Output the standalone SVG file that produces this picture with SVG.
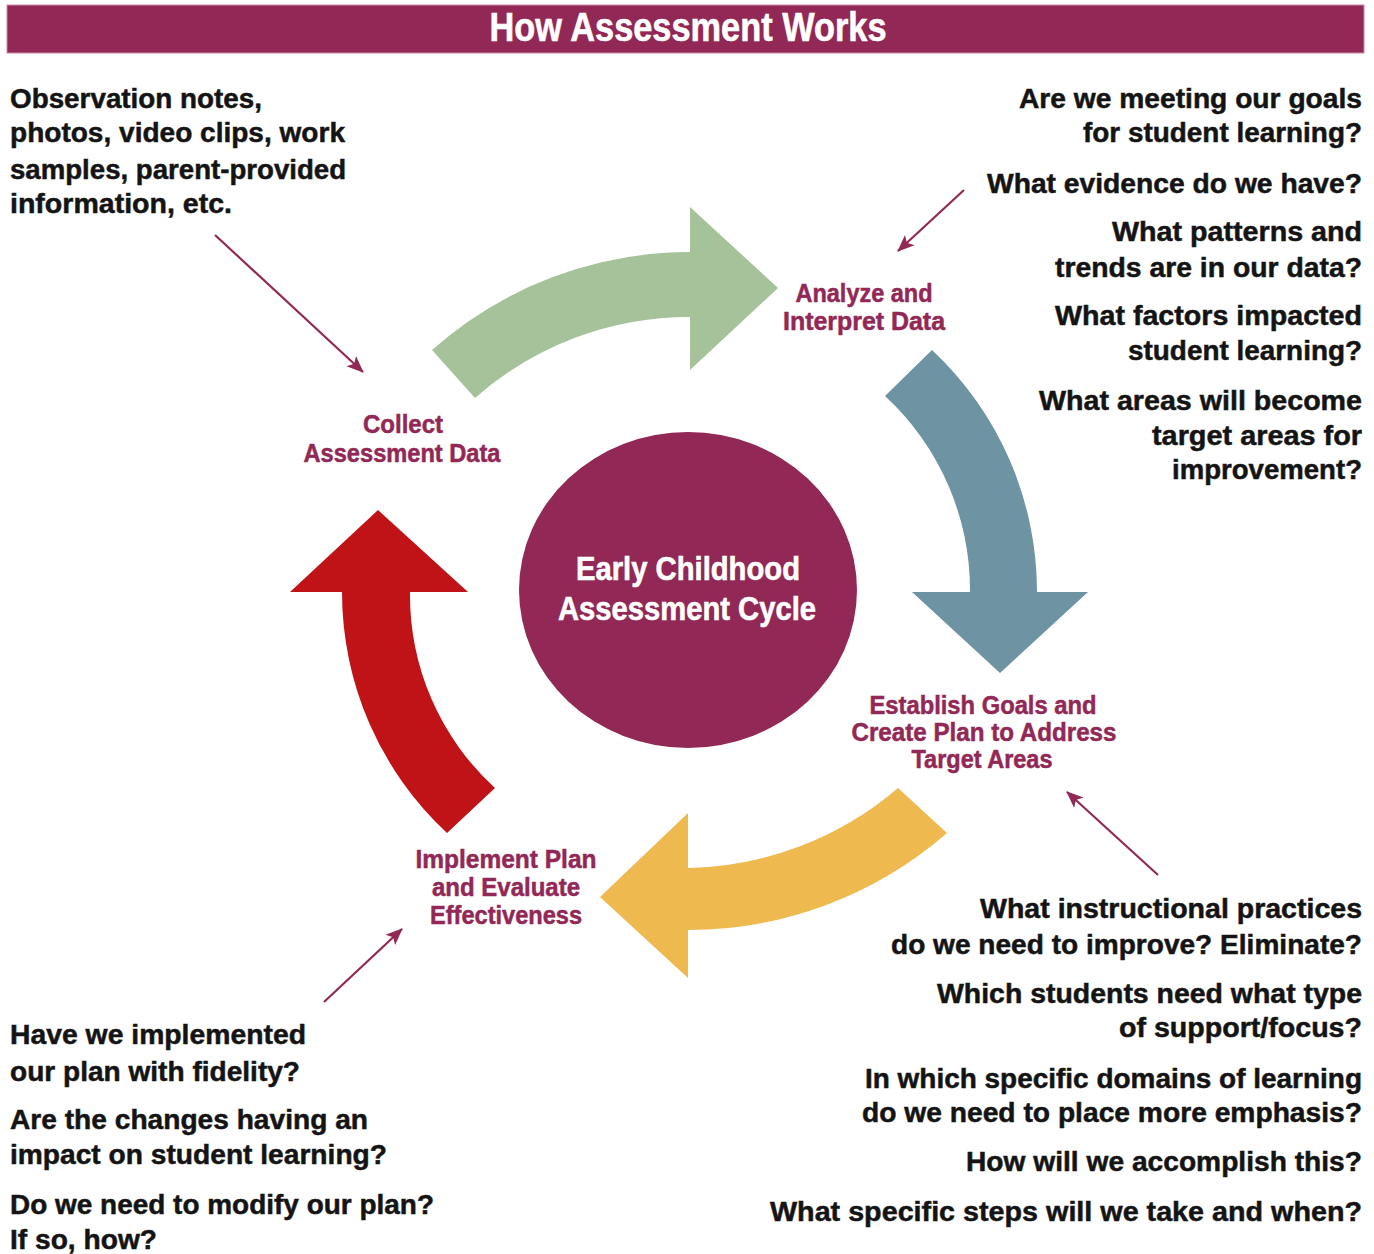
<svg xmlns="http://www.w3.org/2000/svg" width="1374" height="1254" viewBox="0 0 1374 1254">
  <style>
    text { font-family: "Liberation Sans", Arial, sans-serif; font-weight: bold; }
    .body { font-size: 28px; fill: #141414; stroke: #141414; stroke-width: 0.5; }
    .r { text-anchor: end; }
    .lbl { font-size: 25px; fill: #922855; stroke: #922855; stroke-width: 0.5; text-anchor: middle; }
    .ctr { font-size: 34px; fill: #ffffff; stroke: #ffffff; stroke-width: 0.6; text-anchor: middle; }
    .ptr { stroke: #922855; stroke-width: 2.2; fill: none; marker-end: url(#ah); }
  </style>
  <defs>
    <marker id="ah" markerUnits="userSpaceOnUse" markerWidth="20" markerHeight="16" refX="16" refY="8" orient="auto">
      <path d="M0,1 L17,8 L0,15 L4,8 Z" fill="#922855"/>
    </marker>
  </defs>

  <rect width="1374" height="1254" fill="#ffffff"/>

  <g id="title">
    <rect x="7" y="5" width="1357" height="48" fill="#922855" stroke="#c98aa5" stroke-width="1"/>
    <text x="688" y="41" font-size="40" fill="#ffffff" stroke="#ffffff" stroke-width="0.6" text-anchor="middle" textLength="397" lengthAdjust="spacingAndGlyphs">How Assessment Works</text>
  </g>

  <g id="cycle-arrows">
    <path id="arrow-green" fill="#a6c29a" d="M 475 398 L 432 350 A 389 389 0 0 1 690 252 L 690 207 L 778 288 L 690 370 L 690 317 A 324 324 0 0 0 475 398 Z"/>
    <path id="arrow-blue" fill="#6e93a3" d="M 885 396 L 932 350 A 331 331 0 0 1 1037 592 L 1088 592 L 1000 673 L 912 592 L 970 592 A 264 264 0 0 0 885 396 Z"/>
    <path id="arrow-yellow" fill="#eeb94f" d="M 898 788 L 947 833 A 394 394 0 0 1 688 930 L 688 978 L 600 897 L 688 813 L 688 868 A 332 332 0 0 0 898 788 Z"/>
    <path id="arrow-red" fill="#c01318" d="M 495 788 L 447 833 A 329 329 0 0 1 342 592 L 290 592 L 378 510 L 468 592 L 410 592 A 261 261 0 0 0 495 788 Z"/>
  </g>

  <g id="center">
    <ellipse cx="688" cy="590" rx="169" ry="158" fill="#922855"/>
    <text class="ctr" x="688" y="580" textLength="224" lengthAdjust="spacingAndGlyphs">Early Childhood</text>
    <text class="ctr" x="687" y="620" textLength="258" lengthAdjust="spacingAndGlyphs">Assessment Cycle</text>
  </g>

  <g id="step-collect">
    <text class="lbl" x="403" y="433" textLength="80" lengthAdjust="spacingAndGlyphs">Collect</text>
    <text class="lbl" x="402" y="462" textLength="197" lengthAdjust="spacingAndGlyphs">Assessment Data</text>
  </g>

  <g id="step-analyze">
    <text class="lbl" x="864" y="302" textLength="137" lengthAdjust="spacingAndGlyphs">Analyze and</text>
    <text class="lbl" x="864" y="330" textLength="162" lengthAdjust="spacingAndGlyphs">Interpret Data</text>
  </g>

  <g id="step-establish">
    <text class="lbl" x="983" y="714" textLength="227" lengthAdjust="spacingAndGlyphs">Establish Goals and</text>
    <text class="lbl" x="984" y="741" textLength="265" lengthAdjust="spacingAndGlyphs">Create Plan to Address</text>
    <text class="lbl" x="982" y="768" textLength="141" lengthAdjust="spacingAndGlyphs">Target Areas</text>
  </g>

  <g id="step-implement">
    <text class="lbl" x="506" y="868" textLength="181" lengthAdjust="spacingAndGlyphs">Implement Plan</text>
    <text class="lbl" x="506" y="896" textLength="148" lengthAdjust="spacingAndGlyphs">and Evaluate</text>
    <text class="lbl" x="506" y="924" textLength="152" lengthAdjust="spacingAndGlyphs">Effectiveness</text>
  </g>

  <g id="note-collect">
    <text class="body" x="10" y="108" textLength="252" lengthAdjust="spacingAndGlyphs">Observation notes,</text>
    <text class="body" x="10" y="142" textLength="335" lengthAdjust="spacingAndGlyphs">photos, video clips, work</text>
    <text class="body" x="10" y="179" textLength="336" lengthAdjust="spacingAndGlyphs">samples, parent-provided</text>
    <text class="body" x="10" y="213" textLength="222" lengthAdjust="spacingAndGlyphs">information, etc.</text>
  </g>

  <g id="note-analyze">
    <text class="body r" x="1362" y="108" textLength="343" lengthAdjust="spacingAndGlyphs">Are we meeting our goals</text>
    <text class="body r" x="1362" y="142" textLength="279" lengthAdjust="spacingAndGlyphs">for student learning?</text>
    <text class="body r" x="1362" y="193" textLength="375" lengthAdjust="spacingAndGlyphs">What evidence do we have?</text>
    <text class="body r" x="1362" y="241" textLength="250" lengthAdjust="spacingAndGlyphs">What patterns and</text>
    <text class="body r" x="1362" y="277" textLength="307" lengthAdjust="spacingAndGlyphs">trends are in our data?</text>
    <text class="body r" x="1362" y="325" textLength="307" lengthAdjust="spacingAndGlyphs">What factors impacted</text>
    <text class="body r" x="1362" y="360" textLength="234" lengthAdjust="spacingAndGlyphs">student learning?</text>
    <text class="body r" x="1362" y="410" textLength="323" lengthAdjust="spacingAndGlyphs">What areas will become</text>
    <text class="body r" x="1362" y="445" textLength="210" lengthAdjust="spacingAndGlyphs">target areas for</text>
    <text class="body r" x="1362" y="479" textLength="190" lengthAdjust="spacingAndGlyphs">improvement?</text>
  </g>

  <g id="note-establish">
    <text class="body r" x="1362" y="918" textLength="382" lengthAdjust="spacingAndGlyphs">What instructional practices</text>
    <text class="body r" x="1362" y="954" textLength="471" lengthAdjust="spacingAndGlyphs">do we need to improve? Eliminate?</text>
    <text class="body r" x="1362" y="1003" textLength="425" lengthAdjust="spacingAndGlyphs">Which students need what type</text>
    <text class="body r" x="1362" y="1037" textLength="243" lengthAdjust="spacingAndGlyphs">of support/focus?</text>
    <text class="body r" x="1362" y="1088" textLength="497" lengthAdjust="spacingAndGlyphs">In which specific domains of learning</text>
    <text class="body r" x="1362" y="1122" textLength="500" lengthAdjust="spacingAndGlyphs">do we need to place more emphasis?</text>
    <text class="body r" x="1362" y="1171" textLength="396" lengthAdjust="spacingAndGlyphs">How will we accomplish this?</text>
    <text class="body r" x="1362" y="1221" textLength="592" lengthAdjust="spacingAndGlyphs">What specific steps will we take and when?</text>
  </g>

  <g id="note-implement">
    <text class="body" x="10" y="1044" textLength="296" lengthAdjust="spacingAndGlyphs">Have we implemented</text>
    <text class="body" x="10" y="1081" textLength="290" lengthAdjust="spacingAndGlyphs">our plan with fidelity?</text>
    <text class="body" x="10" y="1129" textLength="358" lengthAdjust="spacingAndGlyphs">Are the changes having an</text>
    <text class="body" x="10" y="1164" textLength="377" lengthAdjust="spacingAndGlyphs">impact on student learning?</text>
    <text class="body" x="10" y="1214" textLength="424" lengthAdjust="spacingAndGlyphs">Do we need to modify our plan?</text>
    <text class="body" x="10" y="1249" textLength="147" lengthAdjust="spacingAndGlyphs">If so, how?</text>
  </g>

  <g id="connectors">
    <line class="ptr" x1="215" y1="235" x2="363" y2="372"/>
    <line class="ptr" x1="964" y1="190" x2="898" y2="251"/>
    <line class="ptr" x1="1158" y1="875" x2="1067" y2="792"/>
    <line class="ptr" x1="324" y1="1002" x2="402" y2="929"/>
  </g>
</svg>
